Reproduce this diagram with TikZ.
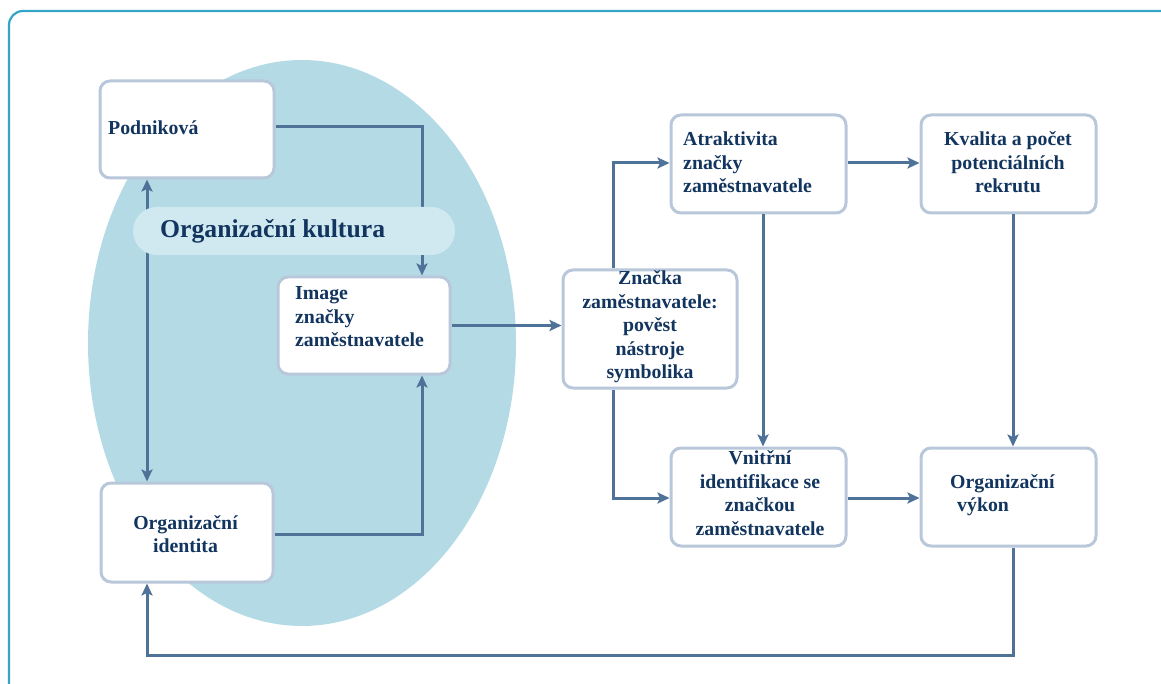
\documentclass[tikz,border=0pt]{standalone}
\usepackage{fontspec}
\setmainfont{Liberation Serif}
\usetikzlibrary{arrows.meta,calc}
\definecolor{navy}{HTML}{12355F}
\definecolor{arr}{HTML}{4F7298}
\definecolor{bord}{HTML}{B8C8DA}
\definecolor{ellc}{HTML}{B4DBE5}
\definecolor{pillc}{HTML}{D0E9F0}
\definecolor{framec}{HTML}{35A5C5}
\begin{document}
\begin{tikzpicture}[x=1pt,y=-1pt,
  box/.style={draw=bord, line width=3pt, fill=white, rounded corners=10pt, inner sep=0pt},
  txt/.style={text=navy, font=\fontsize{19.8}{23.5}\selectfont\bfseries, inner sep=0pt},
  big/.style={text=navy, font=\fontsize{25.7}{30}\selectfont\bfseries, inner sep=0pt},
  conn/.style={draw=arr, line width=3pt},
  >={Stealth[length=12pt,width=11pt,inset=2.5pt]}]
\useasboundingbox (0,0) rectangle (1161,684);
\begin{scope}
\clip (0,0) rectangle (1161,684);
\draw[framec, line width=2.2pt, rounded corners=14pt] (9,11) rectangle (1175,700);
\end{scope}
% ellipse
\fill[ellc] (302,343) ellipse [x radius=214pt, y radius=283pt];
% boxes
\node[box, minimum width=174pt, minimum height=97pt] (pod) at (187,129.5) {};
\node[box, minimum width=172pt, minimum height=97pt] (img) at (364,325.5) {};
\node[box, minimum width=172pt, minimum height=99pt] (oid) at (187,532.5) {};
\node[box, minimum width=174pt, minimum height=118pt] (zn) at (650,329) {};
\node[box, minimum width=175pt, minimum height=98pt] (atr) at (758.5,164) {};
\node[box, minimum width=175pt, minimum height=98pt] (kv) at (1008.5,164) {};
\node[box, minimum width=175pt, minimum height=98pt] (vn) at (758.5,497) {};
\node[box, minimum width=175pt, minimum height=98pt] (ov) at (1008.5,497) {};
% texts
\node[txt, anchor=west] (podt) at (108,128) {Podniková};
\node[txt, anchor=west, align=left] (imgt) at (295,317) {Image\\značky\\zaměstnavatele};
\node[txt, align=center] (oidt) at (185.5,534) {Organizační\\identita};
\node[txt, align=center] (znt) at (650,327) {Značka\\zaměstnavatele:\\pověst\\nástroje\\symbolika};
\node[txt, anchor=west, align=left] (atrt) at (683,162.5) {Atraktivita\\značky\\zaměstnavatele};
\node[txt, align=center] (kvt) at (1008,162.5) {Kvalita a počet\\potenciálních\\rekrutu};
\node[txt, align=center] (vnt) at (760,493) {Vnitřní\\identifikace se\\značkou\\zaměstnavatele};
\node[txt, anchor=west, align=left] (ovt) at (950,495) {Organizační\\\hspace{7pt}výkon};
% connectors
\coordinate (c1) at (422,127);
\coordinate (c2) at (422,534);
\coordinate (c3) at (613,163);
\coordinate (c4) at (613,498);
\coordinate (c5) at (1013,655);
\coordinate (c6) at (147,655);
\draw[conn,->] ([yshift=2.5pt]pod.east) -- (c1) -- (c1 |- img.north);
\draw[conn,->] ([yshift=-1.5pt]oid.east) -- (c2) -- (c2 |- img.south);
\draw[conn,<->] (pod.south -| c6) -- (oid.north -| c6);
\draw[conn,->] (img.east) -- (img.east -| zn.west);
\draw[conn,->] (zn.north -| c3) -- (c3) -- (c3 -| atr.west);
\draw[conn,->] (zn.south -| c4) -- (c4) -- (c4 -| vn.west);
\draw[conn,->] (atr.east |- c3) -- (kv.west |- c3);
\draw[conn,->] ([xshift=4.5pt]atr.south) -- ([xshift=4.5pt]vn.north);
\draw[conn,->] ([xshift=4.5pt]kv.south) -- ([xshift=4.5pt]ov.north);
\draw[conn,->] (vn.east |- c4) -- (ov.west |- c4);
\draw[conn,->] (ov.south -| c5) -- (c5) -- (c6) -- (oid.south -| c6);
% pill
\node[fill=pillc, rounded corners=24pt, minimum width=322pt, minimum height=48pt, inner sep=0pt] (pill) at (294,231) {};
\node[big, anchor=west] (pillt) at (160,231) {Organizační kultura};
\end{tikzpicture}
\end{document}
